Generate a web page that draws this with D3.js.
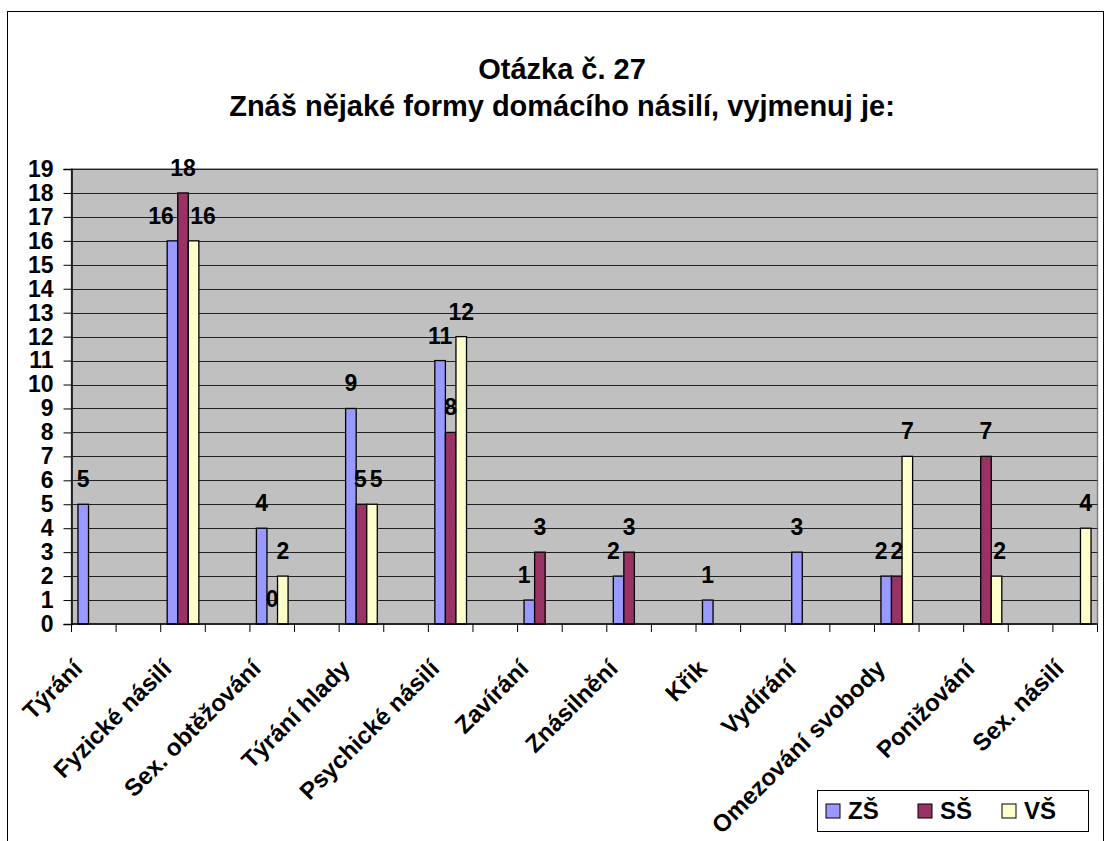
<!DOCTYPE html>
<html>
<head>
<meta charset="utf-8">
<script src="https://cdn.jsdelivr.net/npm/d3@7"></script>
<style>
  body { margin: 0; background: #fff; }
  svg text { font-family: "Liberation Sans", Arial, sans-serif; font-weight: bold; }
</style>
</head>
<body>
<div id="chart"></div>
<script>
// chart data
const categories = ["Týrání", "Fyzické násilí", "Sex. obtěžování", "Týrání hlady", "Psychické násilí",
  "Zavírání", "Znásilnění", "Křik", "Vydírání", "Omezování svobody", "Ponižování", "Sex. násilí"];
const seriesNames = ["ZŠ", "SŠ", "VŠ"];
const zsValues = [5, 16, 4, 9, 11, 1, 2, 1, 3, 2, null, null];
const ssValues = [null, 18, 0, 5, 8, 3, 3, null, null, 2, 7, null];
const vsValues = [null, 16, 2, 5, 12, null, null, null, null, 7, 2, 4];
const yTicks = d3.range(0, 20);
const titleLines = ["Otázka č. 27", "Znáš nějaké formy domácího násilí, vyjmenuj je:"];

const colors = ["#9999ff", "#993366", "#ffffcc"];
const allSeries = [zsValues, ssValues, vsValues];

const width = 1111, height = 841;
const plot = { left: 71.5, right: 1097.5, top: 169, bottom: 624 };
const fs = 23;

const svg = d3.select("#chart").append("svg")
  .attr("width", width).attr("height", height);

// outer chart border (runs off the bottom like the original)
svg.append("rect")
  .attr("x", 7.5).attr("y", 11.5)
  .attr("width", 1096).attr("height", 860)
  .attr("fill", "#fff").attr("stroke", "#000").attr("stroke-width", 1);

// title
svg.append("g").selectAll("text").data(titleLines).enter().append("text")
  .attr("x", 562)
  .attr("y", (d, i) => 79 + i * 37)
  .attr("text-anchor", "middle")
  .attr("font-size", 29)
  .text(d => d);

// every category has an empty slot after it (as in the source sheet)
const slots = d3.range(categories.length * 2 - 1);
const x = d3.scaleBand().domain(slots).range([plot.left, plot.right]);
const y = d3.scaleLinear().domain([0, 19]).range([plot.bottom, plot.top]);

// plot background
svg.append("rect")
  .attr("x", plot.left).attr("y", plot.top)
  .attr("width", plot.right - plot.left).attr("height", plot.bottom - plot.top)
  .attr("fill", "#c0c0c0").attr("stroke", "#808080").attr("stroke-width", 1.5);

// y axis with gridlines
const yAxis = d3.axisLeft(y).tickValues(yTicks).tickSize(8).tickPadding(10);
const yG = svg.append("g")
  .attr("transform", `translate(${plot.left},0)`)
  .call(yAxis);
yG.select(".domain").attr("stroke", "#000").attr("stroke-width", 1.5);
yG.selectAll(".tick line").attr("stroke", "#000");
yG.selectAll(".tick text").attr("font-size", fs).attr("fill", "#000")
  .attr("font-family", "Liberation Sans, Arial, sans-serif");

svg.append("g").selectAll("line").data(yTicks.filter(t => t > 0)).enter().append("line")
  .attr("x1", plot.left).attr("x2", plot.right)
  .attr("y1", d => Math.round(y(d)) + 0.5).attr("y2", d => Math.round(y(d)) + 0.5)
  .attr("stroke", "#222").attr("stroke-width", 1.2);

// bars
const groupW = x.bandwidth() * 0.71;
const xs = d3.scaleBand().domain(d3.range(3)).range([0, groupW]);

const barData = [];
categories.forEach((c, ci) => {
  allSeries.forEach((vals, si) => {
    if (vals[ci] == null) return;
    const slot = ci * 2;
    const x0 = x(slot) + (x.bandwidth() - groupW) / 2 + xs(si);
    barData.push({ ci, si, v: vals[ci], x: x0, w: xs.bandwidth() });
  });
});

svg.append("g").selectAll("rect").data(barData).enter().append("rect")
  .attr("x", d => d.x)
  .attr("y", d => y(d.v))
  .attr("width", d => d.w)
  .attr("height", d => y(0) - y(d.v))
  .attr("fill", d => colors[d.si])
  .attr("stroke", "#000").attr("stroke-width", 1.3);

// x axis: ticks at every slot boundary
const boundaries = d3.range(slots.length + 1).map(i => plot.left + i * x.step());
const xG = svg.append("g");
xG.append("line")
  .attr("x1", plot.left).attr("x2", plot.right)
  .attr("y1", plot.bottom).attr("y2", plot.bottom)
  .attr("stroke", "#000").attr("stroke-width", 1.5);
xG.selectAll("line.tk").data(boundaries).enter().append("line")
  .attr("class", "tk")
  .attr("x1", d => d).attr("x2", d => d)
  .attr("y1", plot.bottom).attr("y2", plot.bottom + 8)
  .attr("stroke", "#000");

xG.selectAll("text").data(categories).enter().append("text")
  .attr("text-anchor", "end")
  .attr("font-size", 24)
  .attr("transform", (d, i) => {
    const cx = x(i * 2) + x.bandwidth() / 2 - 10;
    return `translate(${cx},${plot.bottom + 46}) rotate(-45)`;
  })
  .text(d => d);

// data labels: keep them off the neighbouring bars and off each other
const capH = fs * 0.72;
const labels = barData.map(d => ({
  ...d,
  lx: d.x + d.w / 2,
  ly: y(d.v) - 17,
  tw: String(d.v).length * fs * 0.556
}));
d3.groups(labels, d => d.ci).forEach(([ci, grp]) => {
  const bars = barData.filter(b => b.ci === ci);
  grp.forEach(L => {
    let pushL = 0, pushR = 0;
    bars.forEach(b => {
      if (b.si === L.si || y(b.v) > L.ly) return;
      const l = L.lx - L.tw / 2, r = L.lx + L.tw / 2;
      if (r > b.x && l < b.x + b.w) {
        if (b.si > L.si) pushL = Math.max(pushL, r - b.x + 4);
        else pushR = Math.max(pushR, b.x + b.w - l + 2);
      }
    });
    if (pushL && !pushR) L.lx -= pushL;
    if (pushR && !pushL) L.lx += pushR;
  });
  for (let k = 0; k < 3; k++) {
    for (let a = 0; a < grp.length; a++) {
      for (let b = a + 1; b < grp.length; b++) {
        const A = grp[a], B = grp[b];
        if (Math.abs(A.ly - B.ly) > capH) continue;
        const overlap = (A.tw + B.tw) / 2 + 3 - (B.lx - A.lx);
        if (overlap > 0) { A.lx -= overlap / 2; B.lx += overlap / 2; }
      }
    }
  }
});

svg.append("g").selectAll("text").data(labels).enter().append("text")
  .attr("x", d => d.lx)
  .attr("y", d => d.ly)
  .attr("text-anchor", "middle")
  .attr("font-size", fs)
  .text(d => d.v);

// legend
const legend = svg.append("g").attr("transform", "translate(817,790)");
legend.append("rect")
  .attr("x", 0.5).attr("y", 0.5).attr("width", 271).attr("height", 41)
  .attr("fill", "#fff").attr("stroke", "#000");
const li = legend.selectAll("g").data(seriesNames).enter().append("g")
  .attr("transform", (d, i) => `translate(${[9, 101, 185][i]},14)`);
li.append("rect")
  .attr("width", 14).attr("height", 14)
  .attr("fill", (d, i) => colors[i]).attr("stroke", "#000");
li.append("text")
  .attr("x", 22).attr("y", 15)
  .attr("font-size", 24)
  .text(d => d);
</script>
</body>
</html>
